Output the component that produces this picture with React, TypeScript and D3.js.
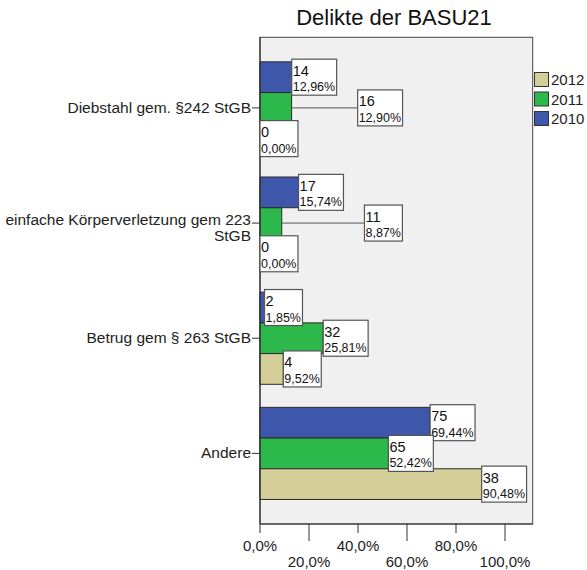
import React from 'react';
import * as d3 from 'd3';

const categories = [
  'Diebstahl gem. §242 StGB',
  'einfache Körperverletzung gem 223 StGB',
  'Betrug gem § 263 StGB',
  'Andere',
];
const categoryLines = [
  ['Diebstahl gem. §242 StGB'],
  ['einfache Körperverletzung gem 223', 'StGB'],
  ['Betrug gem § 263 StGB'],
  ['Andere'],
];
const seriesNames = ['2010', '2011', '2012'];
const counts2010 = [14, 17, 2, 75];
const counts2011 = [16, 11, 32, 65];
const counts2012 = [0, 0, 4, 38];
const pct2010 = [12.96, 15.74, 1.85, 69.44];
const pct2011 = [12.9, 8.87, 25.81, 52.42];
const pct2012 = [0, 0, 9.52, 90.48];
const xTicks = [0, 20, 40, 60, 80, 100];
const legendOrder = ['2012', '2011', '2010'];

const seriesColors: Record<string, string> = {
  '2010': '#3e57ab',
  '2011': '#2db84b',
  '2012': '#d4cf98',
};

const W = 587;
const H = 570;
const FONT = "'Liberation Sans', Arial, Helvetica, sans-serif";
const PLOT = { left: 260, right: 532.7, top: 37.3, bottom: 524 };

let ctx: CanvasRenderingContext2D | null = null;
function measure(text: string, size: number): number {
  if (!ctx) ctx = document.createElement('canvas').getContext('2d');
  if (!ctx) return text.length * size * 0.55;
  ctx.font = `${size}px "Liberation Sans"`;
  return ctx.measureText(text).width;
}

const fmtPct = (v: number) => v.toFixed(2).replace('.', ',') + '%';
const fmtTick = (v: number) => v.toFixed(1).replace('.', ',') + '%';

export default function App() {
  const counts: Record<string, number[]> = { '2010': counts2010, '2011': counts2011, '2012': counts2012 };
  const pcts: Record<string, number[]> = { '2010': pct2010, '2011': pct2011, '2012': pct2012 };

  const x = d3.scaleLinear().domain([0, 111.3]).range([PLOT.left, PLOT.right]);
  const y = d3
    .scaleBand<string>()
    .domain(categories)
    .range([PLOT.top, PLOT.bottom])
    .paddingInner(0.2)
    .paddingOuter(0.213);
  const ySub = d3.scaleBand<string>().domain(seriesNames).range([0, y.bandwidth()]);

  type Lab = { x: number; y: number; w: number; h: number; count: string; pct: string; bx: number; cy: number; leader: boolean };
  const labels: Lab[] = [];
  categories.forEach((cat, ci) => {
    const placed: Lab[] = [];
    seriesNames.forEach((s) => {
      const v = pcts[s][ci];
      const bx = x(v);
      const cy = (y(cat) as number) + (ySub(s) as number) + ySub.bandwidth() / 2;
      const cStr = String(counts[s][ci]);
      const pStr = fmtPct(v);
      const w = Math.max(measure(cStr, 14.5), measure(pStr, 12.5)) + 2.5;
      const h = 36;
      const lab: Lab = { x: bx, y: cy - h / 2, w, h, count: cStr, pct: pStr, bx, cy, leader: false };
      for (const o of placed) {
        const hov = Math.min(lab.x + lab.w, o.x + o.w) - Math.max(lab.x, o.x);
        const vov = Math.min(lab.y + lab.h, o.y + o.h) - Math.max(lab.y, o.y);
        if (hov > 10 && vov > 0) {
          lab.x = o.x + o.w + 21;
          lab.leader = true;
        }
      }
      placed.push(lab);
      labels.push(lab);
    });
  });

  return (
    <svg
      width={W}
      height={H}
      style={{ display: 'block', position: 'absolute', left: 0, top: 0, fontFamily: FONT }}
    >
      <rect x={0} y={0} width={W} height={H} fill="#ffffff" />
      <text x={394} y={25} textAnchor="middle" fontSize={22} fill="#111">
        Delikte der BASU21
      </text>
      <rect
        x={PLOT.left}
        y={PLOT.top}
        width={PLOT.right - PLOT.left}
        height={PLOT.bottom - PLOT.top}
        fill="#f0f0f0"
        stroke="#444"
        strokeWidth={1}
      />
      {categories.map((cat, ci) =>
        seriesNames.map((s) => {
          const v = pcts[s][ci];
          if (v <= 0) return null;
          return (
            <rect
              key={cat + s}
              x={x(0)}
              y={(y(cat) as number) + (ySub(s) as number)}
              width={x(v) - x(0)}
              height={ySub.bandwidth()}
              fill={seriesColors[s]}
              stroke="#2a2a2a"
              strokeWidth={1}
            />
          );
        })
      )}
      <line x1={PLOT.left} x2={PLOT.left} y1={PLOT.top} y2={PLOT.bottom} stroke="#333" strokeWidth={1.2} />
      <line x1={PLOT.left} x2={PLOT.right} y1={PLOT.bottom} y2={PLOT.bottom} stroke="#333" strokeWidth={1.2} />
      {labels.map((l, i) => (
        <g key={'lab' + i}>
          {l.leader && <line x1={l.bx} y1={l.cy} x2={l.x} y2={l.y + l.h / 2} stroke="#555" strokeWidth={1} />}
          <rect x={l.x} y={l.y} width={l.w} height={l.h} fill="#ffffff" stroke="#555" strokeWidth={1.2} />
          <text x={l.x + 1} y={l.y + 16.5} fontSize={14.5} fill="#111">
            {l.count}
          </text>
          <text x={l.x + 1} y={l.y + 32} fontSize={12.5} fill="#111">
            {l.pct}
          </text>
        </g>
      ))}
      {categories.map((cat, ci) => {
        const cy = (y(cat) as number) + y.bandwidth() / 2;
        const lines = categoryLines[ci];
        return (
          <g key={'cat' + ci}>
            <line x1={PLOT.left - 8} x2={PLOT.left} y1={cy} y2={cy} stroke="#333" strokeWidth={1} />
            {lines.map((ln, li) => (
              <text
                key={li}
                x={PLOT.left - 9}
                y={cy + (lines.length > 1 ? 2 + li * 16 : 5)}
                textAnchor="end"
                fontSize={15.5}
                fill="#222"
              >
                {ln}
              </text>
            ))}
          </g>
        );
      })}
      {xTicks.map((t, i) => {
        const tx = x(t);
        const odd = i % 2 === 1;
        return (
          <g key={'t' + t}>
            <line x1={tx} x2={tx} y1={PLOT.bottom} y2={PLOT.bottom + (odd ? 17 : 9)} stroke="#333" strokeWidth={1} />
            <text x={tx} y={odd ? 567 : 550.5} textAnchor="middle" fontSize={15} fill="#222">
              {fmtTick(t)}
            </text>
          </g>
        );
      })}
      {legendOrder.map((s, i) => (
        <g key={'lg' + s}>
          <rect x={534.5} y={72.5 + i * 19.5} width={14} height={14} fill={seriesColors[s]} stroke="#333" strokeWidth={1} />
          <text x={551} y={72.5 + i * 19.5 + 12.5} fontSize={15} fill="#222">
            {s}
          </text>
        </g>
      ))}
    </svg>
  );
}
